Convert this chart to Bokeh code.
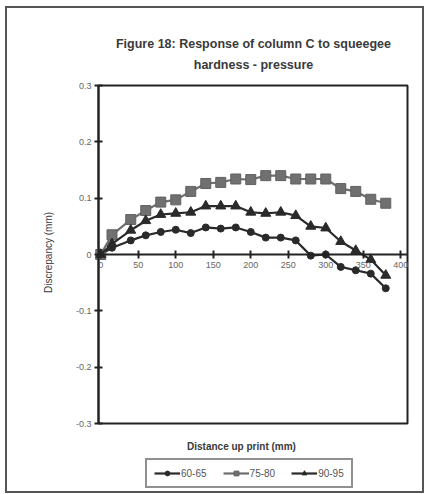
import math
from bokeh.plotting import figure
from bokeh.models import Legend, LegendItem, FixedTicker, Label, BoxAnnotation
from bokeh.embed import file_html
from bokeh.resources import INLINE

# ---- data ----
distance = [0, 15, 40, 60, 80, 100, 120, 140, 160, 180, 200, 220, 240, 260, 280, 300, 320, 340, 360, 380]
s_60_65 = [0.0, 0.012, 0.025, 0.034, 0.040, 0.044, 0.038, 0.048, 0.046, 0.048, 0.040, 0.030, 0.030, 0.025,
           -0.002, 0.0, -0.022, -0.028, -0.034, -0.060]
s_75_80 = [0.0, 0.035, 0.062, 0.078, 0.093, 0.097, 0.112, 0.126, 0.128, 0.134, 0.133, 0.140, 0.140, 0.134,
           0.134, 0.134, 0.117, 0.112, 0.098, 0.091]
s_90_95 = [0.0, 0.019, 0.043, 0.060, 0.071, 0.073, 0.075, 0.086, 0.086, 0.086, 0.075, 0.073, 0.075, 0.069,
           0.050, 0.047, 0.023, 0.007, -0.009, -0.037]
series_names = ["60-65", "75-80", "90-95"]
x_ticks = [0, 50, 100, 150, 200, 250, 300, 350, 400]
y_ticks = [-0.3, -0.2, -0.1, 0.0, 0.1, 0.2, 0.3]
y_tick_labels = ["-0.3", "-0.2", "-0.1", "0", "0.1", "0.2", "0.3"]
title_lines = ["Figure 18: Response of column C to squeegee", "hardness - pressure"]
x_label = "Distance up print (mm)"
y_label = "Discrepancy (mm)"

FONT = "Liberation Sans"
TXT = "#3a3a3a"
INK = "#222222"

# plot-area value limits
X0, X1 = -3, 409
Y0, Y1 = -0.3, 0.3

# canvas geometry (page px): canvas at (5, 6), size 419 x 487
W, H = 419, 487
OX, OY = 5, 6
PL, PR, PT, PB = 98, 407, 85, 423          # plot area edges on the page
sx = (X1 - X0) / (PR - PL)
sy = (Y1 - Y0) / (PB - PT)
XR = (X0 - (PL - OX) * sx, X1 + (OX + W - PR) * sx)
YR = (Y0 - (OY + H - PB) * sy, Y1 + (PT - OY) * sy)


def px_x(px):
    return X0 + (px - PL) * sx


def px_y(py):
    return Y1 - (py - PT) * sy


p = figure(width=W, height=H, x_range=XR, y_range=YR,
           min_border=0, min_border_left=0, min_border_right=0, min_border_top=0, min_border_bottom=0,
           toolbar_location=None, output_backend="svg")
p.styles = {"margin": f"{OY}px 0 0 {OX}px"}
p.title.visible = False
p.grid.visible = False
p.outline_line_color = "#555555"
p.outline_line_width = 3
p.background_fill_color = "white"

# plot-area box
p.add_layout(BoxAnnotation(left=X0, right=X1, bottom=Y0, top=Y1, fill_alpha=0,
                           line_color=INK, line_alpha=1.0, line_width=2, level="underlay"))

# axes (fixed inside the canvas)
p.xaxis.fixed_location = 0
p.xaxis.bounds = (X0, X1)
p.yaxis.fixed_location = X0
p.yaxis.bounds = (Y0, Y1)
p.xaxis.ticker = FixedTicker(ticks=x_ticks)
p.yaxis.ticker = FixedTicker(ticks=y_ticks)
p.yaxis.major_label_overrides = {t: l for t, l in zip(y_ticks, y_tick_labels)}
for ax in (p.xaxis, p.yaxis):
    ax.axis_line_color = INK
    ax.axis_line_width = 2
    ax.major_tick_in = 4
    ax.major_tick_out = 4
    ax.major_tick_line_color = INK
    ax.major_tick_line_width = 2
    ax.minor_tick_line_color = None
    ax.major_label_text_font = FONT
    ax.major_label_text_font_size = "9px"
    ax.major_label_text_color = "#666666"
p.xaxis.major_label_standoff = 3
p.yaxis.major_label_standoff = 3

# series
l1 = p.line(distance, s_60_65, line_color="#2a2a2a", line_width=2.2)
m1 = p.scatter(distance, s_60_65, marker="circle", size=7, fill_color="#2a2a2a", line_color="#2a2a2a")
l2 = p.line(distance, s_75_80, line_color="#6e6e6e", line_width=2.2)
m2 = p.scatter(distance, s_75_80, marker="square", size=10, fill_color="#707070", line_color="#606060")
l3 = p.line(distance, s_90_95, line_color="#2a2a2a", line_width=2.2)
m3 = p.scatter(distance, s_90_95, marker="triangle", size=10, fill_color="#2a2a2a", line_color="#2a2a2a")

# texts
for txt, py in zip(title_lines, [43, 64]):
    p.add_layout(Label(x=px_x(253), y=px_y(py), text=txt, text_align="center", text_baseline="middle",
                       text_font=FONT, text_font_size="12.5px", text_font_style="bold", text_color=TXT))
p.add_layout(Label(x=px_x(241), y=px_y(446), text=x_label, text_align="center", text_baseline="middle",
                   text_font=FONT, text_font_size="10px", text_font_style="bold", text_color=TXT))
p.add_layout(Label(x=px_x(48), y=px_y(252), text=y_label, text_align="center", text_baseline="middle",
                   angle=math.pi / 2, text_font=FONT, text_font_size="10px", text_color=TXT))

legend = Legend(items=[LegendItem(label=series_names[0], renderers=[l1, m1]),
                       LegendItem(label=series_names[1], renderers=[l2, m2]),
                       LegendItem(label=series_names[2], renderers=[l3, m3])],
                orientation="horizontal", location=(145 - OX, OY + H - 488),
                border_line_color=INK, border_line_width=2,
                label_text_font=FONT, label_text_font_size="10px", label_text_color="#555555",
                glyph_width=26, glyph_height=12, label_standoff=1, spacing=16,
                padding=7, margin=0, label_height=12, background_fill_alpha=1)
p.add_layout(legend, "center")

open("out.html", "w").write(file_html(p, INLINE))
